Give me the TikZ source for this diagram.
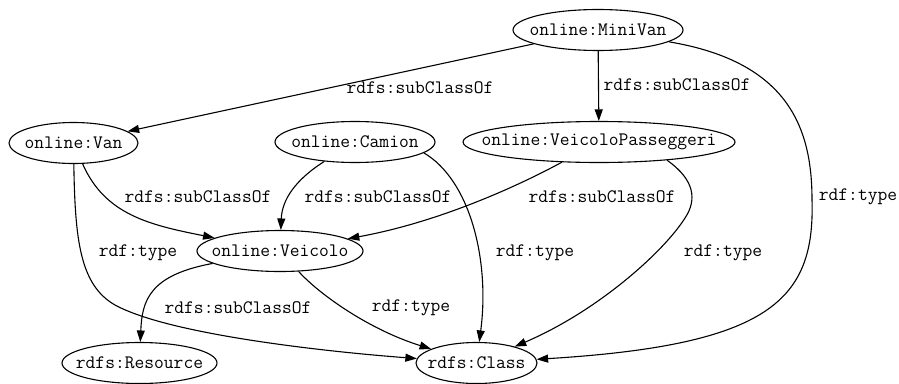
\documentclass[tikz,border=0pt]{standalone}
\usepackage{fontspec}
\usetikzlibrary{shapes.geometric,arrows.meta}

% class names are centred on a zero-width box so the ellipse keeps its own size
\newcommand\clsname[1]{\makebox[0pt]{#1}}

\tikzset{
  gvtext/.style={font=\ttfamily\fontsize{19pt}{22pt}\selectfont},
  cls/.style={draw, ellipse, line width=1.1pt, inner sep=0pt,
              minimum height=41pt, gvtext},
  lbl/.style={inner sep=0pt, gvtext},
  edge/.style={line width=1.1pt, -{Triangle[length=11.5pt,width=8pt]}}
}

\begin{document}
\begin{tikzpicture}[x=1pt, y=-1pt]
\useasboundingbox (0,0) rectangle (899,383);

% classes
\node[cls, minimum width=170pt] (mv)  at (598,30)    {\clsname{online:MiniVan}};
\node[cls, minimum width=129pt] (van) at (73.5,143)  {\clsname{online:Van}};
\node[cls, minimum width=160pt] (cam) at (355,142)   {\clsname{online:Camion}};
\node[cls, minimum width=272pt] (vp)  at (599,142)   {\clsname{online:VeicoloPasseggeri}};
\node[cls, minimum width=166pt] (vei) at (280,251)   {\clsname{online:Veicolo}};
\node[cls, minimum width=155pt] (res) at (139.5,363) {\clsname{rdfs:Resource}};
\node[cls, minimum width=121pt] (rc)  at (476.5,363) {\clsname{rdfs:Class}};

% edge labels
\node[lbl] (l1)  at (420,88)  {rdfs:subClassOf};
\node[lbl] (l2)  at (677,85)  {rdfs:subClassOf};
\node[lbl] (l3)  at (858,197) {rdf:type};
\node[lbl] (l4)  at (198,197) {rdfs:subClassOf};
\node[lbl] (l5)  at (378,197) {rdfs:subClassOf};
\node[lbl] (l6)  at (602,197) {rdfs:subClassOf};
\node[lbl] (l7)  at (138,253) {rdf:type};
\node[lbl] (l8)  at (535,253) {rdf:type};
\node[lbl] (l9)  at (723,253) {rdf:type};
\node[lbl] (l10) at (238,308) {rdfs:subClassOf};
\node[lbl] (l11) at (411,308) {rdf:type};

% edges
\draw[edge] (mv) -- (van);
\draw[edge] (mv) -- (vp);
\draw[edge] (mv) .. controls (790,62) and (812,130) .. (812,200)
                 .. controls (815,300) and (770,345) .. (rc);
\draw[edge] (van) .. controls (105,215) and (150,225) .. (vei);
\draw[edge] (van) .. controls (75,240) and (80,285) .. (115,305)
                  .. controls (170,335) and (330,352) .. (rc);
\draw[edge] (cam) .. controls (295,180) and (282,200) .. (vei);
\draw[edge] (cam.-9) .. controls (470,180) and (490,260) .. (rc);
\draw[edge] (vp) .. controls (520,185) and (440,222) .. (vei);
\draw[edge] (vp.-15) .. controls (695,180) and (697,200) .. (685,218)
                     .. controls (665,250) and (600,310) .. (rc);
\draw[edge] (vei) .. controls (150,275) and (142,300) .. (res);
\draw[edge] (vei) .. controls (320,295) and (370,330) .. (rc);
\end{tikzpicture}
\end{document}
